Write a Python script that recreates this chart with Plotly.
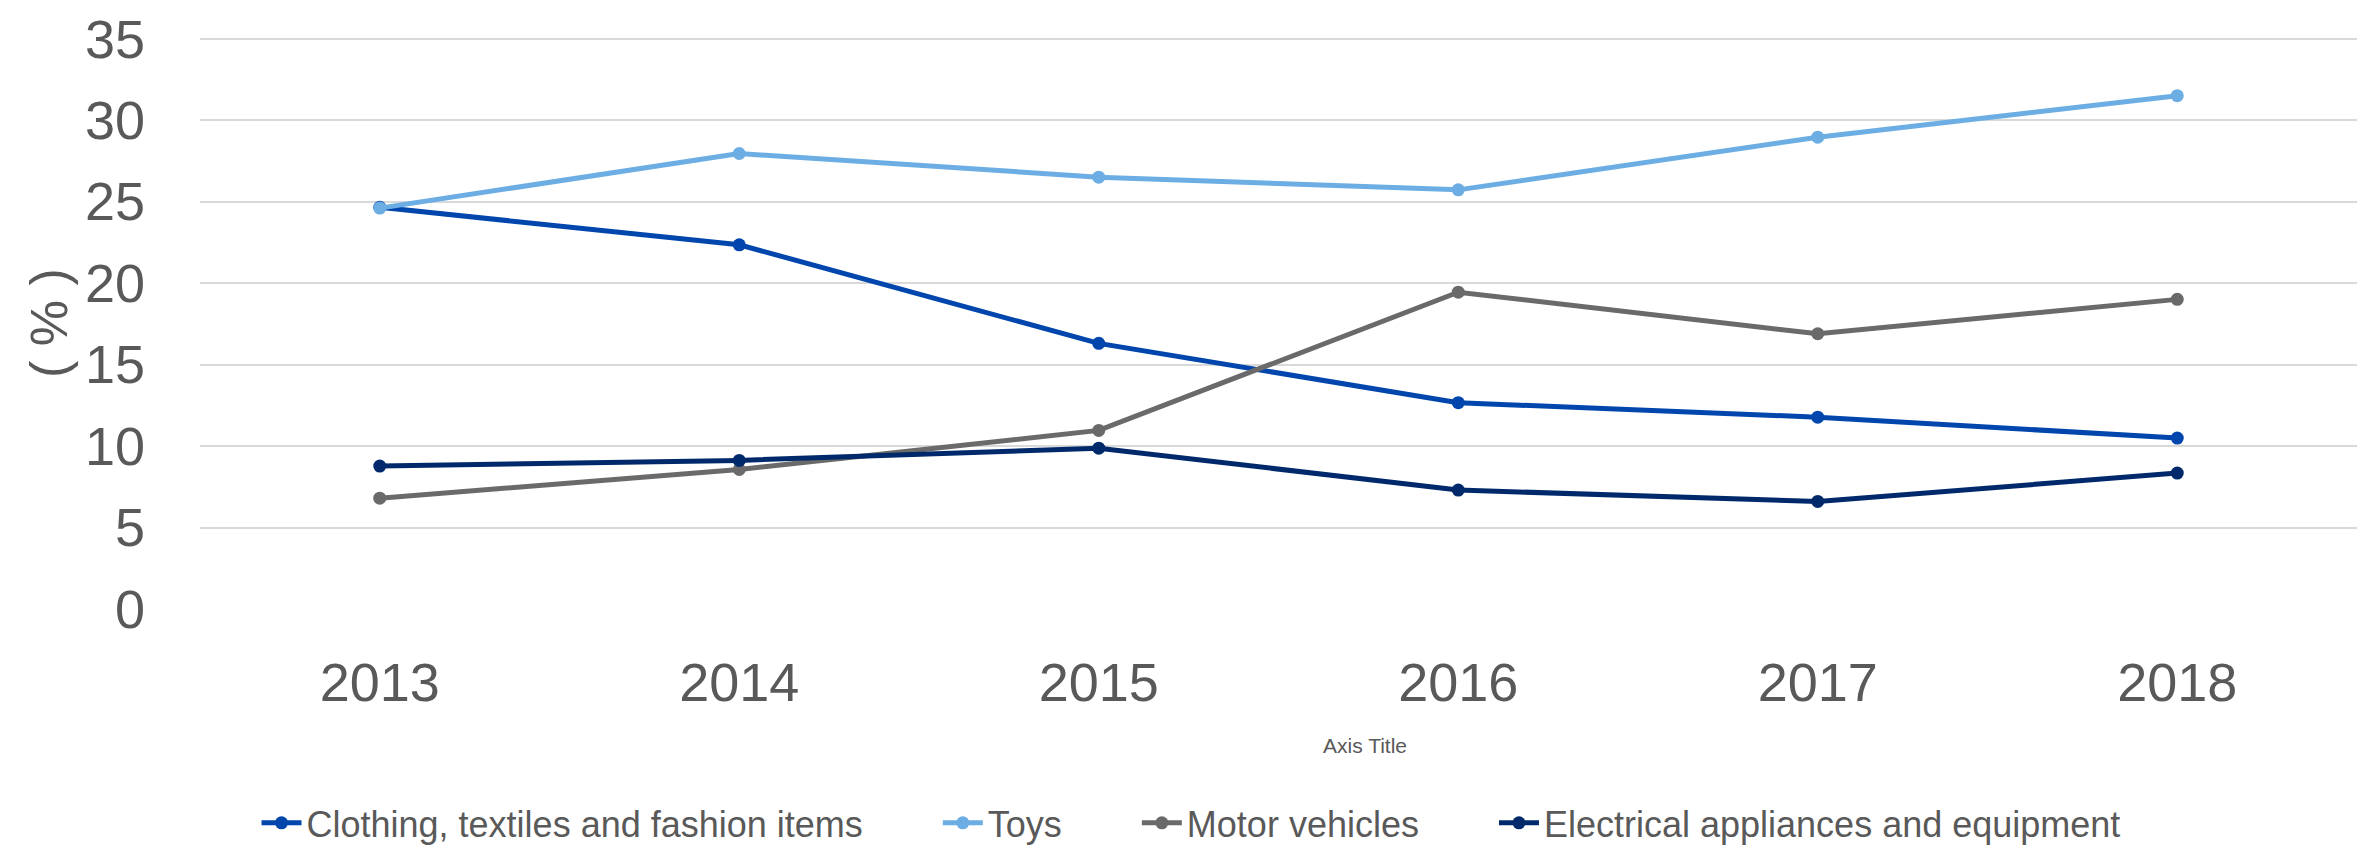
import plotly.graph_objects as go

years = ["2013", "2014", "2015", "2016", "2017", "2018"]
clothing = [24.65, 22.35, 16.3, 12.66, 11.77, 10.49]
toys = [24.6, 27.95, 26.5, 25.72, 28.95, 31.5]
motor = [6.8, 8.56, 10.96, 19.44, 16.89, 19.0]
electrical = [8.77, 9.12, 9.87, 7.3, 6.6, 8.34]

names = ["Clothing, textiles and fashion items", "Toys", "Motor vehicles",
         "Electrical appliances and equipment"]
values = [clothing, toys, motor, electrical]
colors = ["#0046AD", "#6CAEE4", "#6A6A6A", "#00296B"]

FONT = "Liberation Sans, Arial, sans-serif"
GREY = "#595959"
PAD = "\u00a0" * 7

fig = go.Figure()
for i, (name, vals, col) in enumerate(zip(names, values, colors)):
    label = name + (PAD if i < len(names) - 1 else "")
    fig.add_trace(go.Scatter(
        x=years, y=vals, name=label, mode="lines+markers",
        line=dict(color=col, width=5),
        marker=dict(color=col, size=13),
    ))

fig.update_layout(
    width=2366, height=837,
    paper_bgcolor="white", plot_bgcolor="white",
    margin=dict(l=192, r=17, t=29, b=236, autoexpand=False),
    font=dict(family=FONT, color=GREY),
    showlegend=True,
    legend=dict(
        orientation="h", xref="container", yref="paper",
        x=0.5, xanchor="center", y=-0.374, yanchor="middle",
        font=dict(size=36, family=FONT, color=GREY),
        itemwidth=40,
    ),
    xaxis=dict(
        type="category", range=[-0.5, 5.5], automargin=False,
        showgrid=False, zeroline=False, showline=False,
        ticks="", tickfont=dict(size=54, family=FONT, color=GREY),
        ticklabelstandoff=37, ticklabeloverflow="allow",
    ),
    yaxis=dict(
        range=[0, 35.1], dtick=5, tick0=0, automargin=False,
        showgrid=True, gridcolor="#D9D9D9", gridwidth=1.5,
        zeroline=False, showline=False, ticks="",
        tickfont=dict(size=54, family=FONT, color=GREY),
        ticklabelstandoff=54, ticklabeloverflow="allow",
        title=dict(text="( % )", font=dict(size=52, family=FONT, color=GREY), standoff=0),
    ),
    annotations=[dict(
        text="Axis Title", xref="paper", yref="paper",
        x=0.54, y=-0.238, xanchor="center", yanchor="middle",
        showarrow=False, font=dict(size=21, family=FONT, color=GREY),
    )],
)

fig.write_html("out.html")
